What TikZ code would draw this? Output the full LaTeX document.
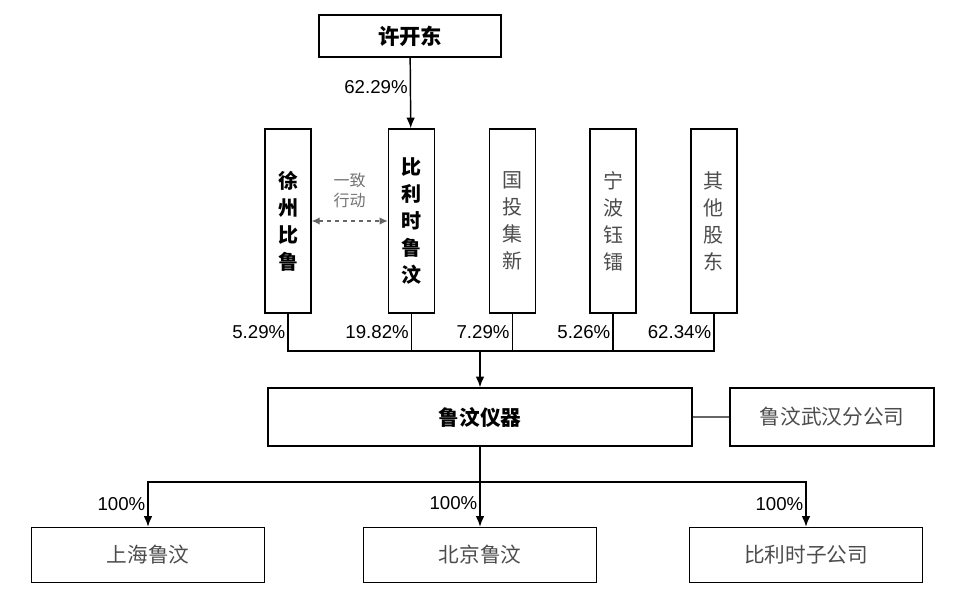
\documentclass[tikz,border=0pt]{standalone}
\usepackage{fontspec}
\setmainfont{Liberation Sans}
\newfontfamily\cjk{Noto Sans CJK SC}
\usetikzlibrary{arrows.meta,positioning}

\begin{document}
\begin{tikzpicture}[
  x=0.75pt, y=-0.75pt,
  node distance=40pt,
  box/.style={rectangle, draw, line width=1.1pt, inner sep=0pt, align=center},
  holder/.style={box, minimum width=34.5pt, minimum height=138pt, text=black!70, font=\cjk\fontsize{15}{20.25}\selectfont},
  keyholder/.style={holder, text=black, font=\cjk\bfseries\fontsize{15}{20.25}\selectfont},
  company/.style={box, minimum height=43.5pt, text=black!70, font=\cjk\fontsize{15.5}{18}\selectfont},
  subco/.style={box, minimum width=174.75pt, minimum height=41.25pt, text=black!70, font=\cjk\fontsize{15.5}{18}\selectfont},
  pct/.style={font=\fontsize{14}{16}\selectfont, inner sep=1.5pt},
  link/.style={line width=1.1pt},
  arrow/.style={link, -{Latex[length=8pt,width=6.5pt]}}
]
\useasboundingbox (0,0) rectangle (960,602);

% Controlling person (top)
\node[box, minimum width=136.5pt, minimum height=31.5pt, font=\cjk\bfseries\fontsize{16}{18}\selectfont] (xkd) at (410,36) {许开东};

% Shareholders (row of tall boxes)
\node[keyholder] (xzbl) at (288,221) {徐\\州\\比\\鲁};
\node[keyholder, right=57pt of xzbl] (blsl) {比\\利\\时\\鲁\\汶};
\node[holder, right=of blsl] (gtjx) {国\\投\\集\\新};
\node[holder, right=of gtjx] (nbyl) {宁\\波\\钰\\镭};
\node[holder, right=of nbyl] (qtgd) {其\\他\\股\\东};

\draw[arrow] (xkd) -- (blsl) node[pct, left, pos=0.42] {62.29\%};

\draw[black!60, line width=0.8pt, dashed, {Latex[length=6pt,width=5.5pt]}-{Latex[length=6pt,width=5.5pt]}] (xzbl) -- (blsl)
  node[midway, above=6pt, text=black!55, font=\cjk\fontsize{12}{15}\selectfont, align=center] {一致\\行动};

% Shareholdings into the company
\coordinate (bus) at (480,351);
\draw[link] (xzbl.south) |- (bus) node[pct, left, pos=0.25] {5.29\%};
\draw[link] (blsl.south) |- (bus) node[pct, left, pos=0.25] {19.82\%};
\draw[link] (gtjx.south) |- (bus) node[pct, left, pos=0.25] {7.29\%};
\draw[link] (nbyl.south) |- (bus) node[pct, left, pos=0.25] {5.26\%};
\draw[link] (qtgd.south) |- (bus) node[pct, left, pos=0.25] {62.34\%};

\node[company, minimum width=318pt, text=black, font=\cjk\bfseries\fontsize{15.5}{18}\selectfont] (lwyq) at (480,417) {鲁汶仪器};
\node[company, minimum width=153pt] (whfgs) at (832,417) {鲁汶武汉分公司};

\draw[arrow] (bus) -- (lwyq);
\draw[black!60, line width=0.8pt] (lwyq) -- (whfgs);

% Subsidiaries (bottom)
\node[subco] (shlw) at (148,555) {上海鲁汶};
\node[subco] (bjlw) at (480,555) {北京鲁汶};
\node[subco] (blszgs) at (806,555) {比利时子公司};

\coordinate (sbus) at (480,482);
\draw[link] (lwyq.south) -- (sbus);
\draw[arrow] (sbus) -| (shlw.north) node[pct, left, pos=0.75] {100\%};
\draw[arrow] (lwyq.south) -- (bjlw.north) node[pct, left, pos=0.7] {100\%};
\draw[arrow] (sbus) -| (blszgs.north) node[pct, left, pos=0.75] {100\%};

\end{tikzpicture}
\end{document}
